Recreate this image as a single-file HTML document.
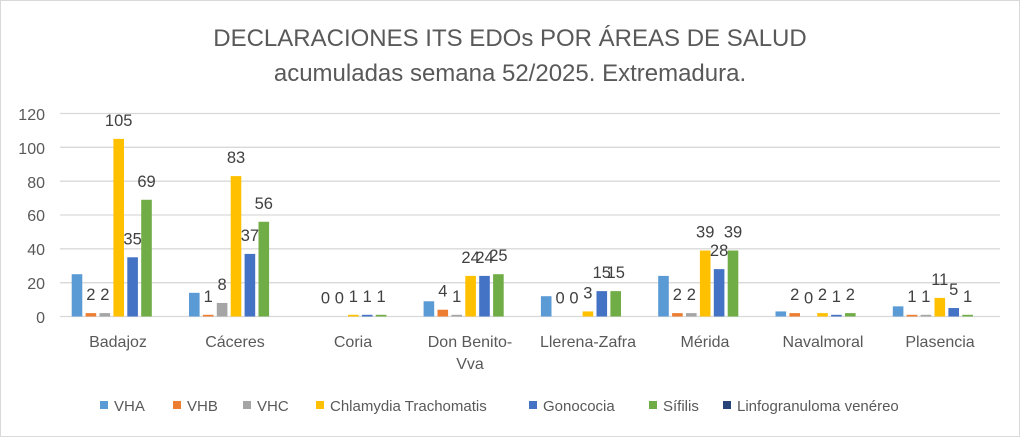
<!DOCTYPE html>
<html><head><meta charset="utf-8"><style>
html,body{margin:0;padding:0;background:#fff}
svg{display:block;font-family:"Liberation Sans",sans-serif}
</style></head><body>
<svg width="1020" height="437" viewBox="0 0 1020 437" xmlns="http://www.w3.org/2000/svg">
<rect x="0.5" y="0.5" width="1019" height="436" fill="#fff" stroke="#d9d9d9"/>
<g fill="#595959" font-size="24" text-anchor="middle">
<text x="510" y="46">DECLARACIONES ITS EDOs POR ÁREAS DE SALUD</text>
<text x="510" y="81">acumuladas semana 52/2025. Extremadura.</text>
</g>
<g stroke="#d9d9d9" stroke-width="1.3">
<line x1="60" x2="1000" y1="113.5" y2="113.5"/>
<line x1="60" x2="1000" y1="147.3" y2="147.3"/>
<line x1="60" x2="1000" y1="181.2" y2="181.2"/>
<line x1="60" x2="1000" y1="215" y2="215"/>
<line x1="60" x2="1000" y1="248.8" y2="248.8"/>
<line x1="60" x2="1000" y1="282.7" y2="282.7"/>
<line x1="60" x2="1000" y1="316.5" y2="316.5"/>
</g>
<g fill="#595959" font-size="16" text-anchor="end">
<text x="45" y="120">120</text><text x="45" y="154">100</text><text x="45" y="188">80</text>
<text x="45" y="221">60</text><text x="45" y="255">40</text><text x="45" y="289">20</text><text x="45" y="323">0</text>
</g>
<g fill="#595959" font-size="16" text-anchor="middle">
<text x="118" y="347">Badajoz</text><text x="235" y="347">Cáceres</text><text x="353" y="347">Coria</text>
<text x="470" y="347">Don Benito-</text><text x="470" y="369">Vva</text>
<text x="588" y="347">Llerena-Zafra</text><text x="705" y="347">Mérida</text>
<text x="823" y="347">Navalmoral</text><text x="940" y="347">Plasencia</text>
</g>
<g id="bars"></g>
<g id="labels" fill="#404040" font-size="16.5" text-anchor="middle"></g>
<g font-size="15" fill="#595959">
<rect x="100" y="401" width="8" height="8" fill="#5B9BD5"/><text x="114" y="411">VHA</text>
<rect x="173" y="401" width="8" height="8" fill="#ED7D31"/><text x="187" y="411">VHB</text>
<rect x="243" y="401" width="8" height="8" fill="#A5A5A5"/><text x="257" y="411">VHC</text>
<rect x="316" y="401" width="8" height="8" fill="#FFC000"/><text x="330" y="411">Chlamydia Trachomatis</text>
<rect x="529" y="401" width="8" height="8" fill="#4472C4"/><text x="543" y="411">Gonococia</text>
<rect x="649" y="401" width="8" height="8" fill="#70AD47"/><text x="663" y="411">Sífilis</text>
<rect x="723" y="401" width="8" height="8" fill="#264478"/><text x="737" y="411">Linfogranuloma venéreo</text>
</g>
<script>
var cols=["#5B9BD5","#ED7D31","#A5A5A5","#FFC000","#4472C4","#70AD47","#264478"];
var d=[[25,2,2,105,35,69,0],[14,1,8,83,37,56,0],[0,0,0,1,1,1,0],[9,4,1,24,24,25,0],[12,0,0,3,15,15,0],[24,2,2,39,28,39,0],[3,2,0,2,1,2,0],[6,1,1,11,5,1,0]];
var b=document.getElementById("bars"),l=document.getElementById("labels"),ns="http://www.w3.org/2000/svg";
for(var i=0;i<8;i++)for(var s=0;s<7;s++){var v=d[i][s],x=71.7+117.3*i+13.9*s,h=v*1.6917,y=316.5-h;
if(v>0){var r=document.createElementNS(ns,"rect");r.setAttribute("x",x);r.setAttribute("y",y);r.setAttribute("width",10.6);r.setAttribute("height",h);r.setAttribute("fill",cols[s]);b.appendChild(r);}
if(s>=1&&s<=5){var t=document.createElementNS(ns,"text");t.setAttribute("x",x+5.3);t.setAttribute("y",y-13);t.textContent=v;l.appendChild(t);}}
</script>
</svg>
</body></html>
